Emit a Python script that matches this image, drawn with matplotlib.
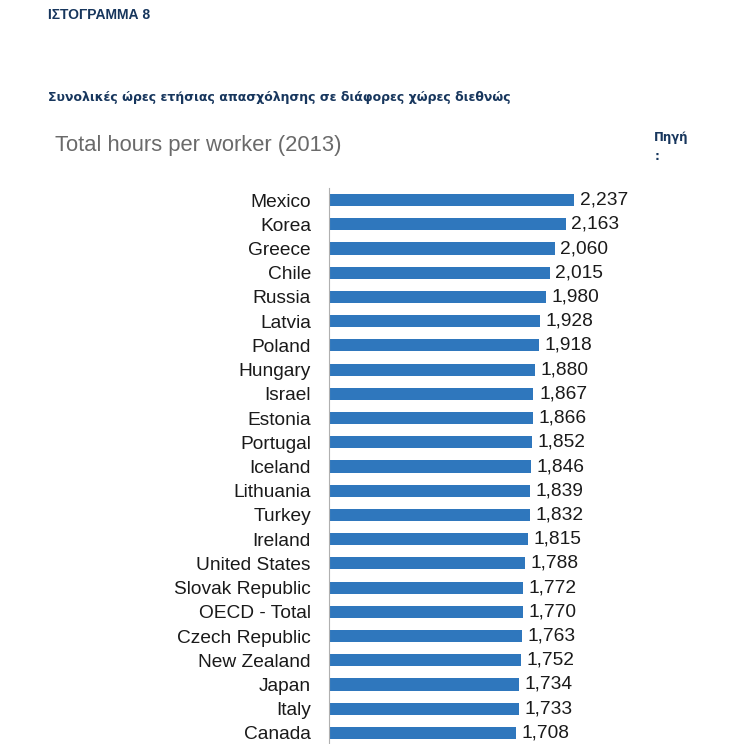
import matplotlib.pyplot as plt

countries = ['Mexico', 'Korea', 'Greece', 'Chile', 'Russia', 'Latvia', 'Poland',
             'Hungary', 'Israel', 'Estonia', 'Portugal', 'Iceland', 'Lithuania',
             'Turkey', 'Ireland', 'United States', 'Slovak Republic', 'OECD - Total',
             'Czech Republic', 'New Zealand', 'Japan', 'Italy', 'Canada']
hours = [2237, 2163, 2060, 2015, 1980, 1928, 1918, 1880, 1867, 1866, 1852, 1846,
         1839, 1832, 1815, 1788, 1772, 1770, 1763, 1752, 1734, 1733, 1708]

W = H = 744
fig = plt.figure(figsize=(W / 100, H / 100), dpi=100)
fig.patch.set_facecolor('white')

# axes placed in pixel coords of the reference
left, right = 329, 574
top, bottom = 188, 745
ax = fig.add_axes([left / W, 1 - bottom / H, (right - left) / W, (bottom - top) / H])

y = range(len(countries))
bars = ax.barh(y, hours, height=0.5, color='#2f77bd')
ax.set_xlim(0, max(hours))
ax.set_ylim(len(countries) - 0.5, -0.5)
ax.set_yticks(list(y))
ax.set_yticklabels(countries, family='Liberation Sans', fontsize=13.8, color='#1a1a1a')
ax.tick_params(axis='y', length=0, pad=13)
ax.set_xticks([])
for s in ['top', 'right', 'bottom']:
    ax.spines[s].set_visible(False)
ax.spines['left'].set_color('#b0b0b0')
ax.spines['left'].set_linewidth(0.8)

for rect, v in zip(bars, hours):
    ax.annotate('{:,}'.format(v), (rect.get_width(), rect.get_y() + rect.get_height() / 2),
                xytext=(4, 0), textcoords='offset points', ha='left', va='center',
                family='Liberation Sans', fontsize=13.8, color='#1a1a1a', clip_on=False)

navy = '#17365d'
fig.text(48 / W, 1 - 15 / H, 'ΙΣΤΟΓΡΑΜΜΑ 8', family='Liberation Sans', fontsize=10,
         fontweight='bold', color=navy, va='center')
fig.text(48 / W, 1 - 97 / H, 'Συνολικές ώρες ετήσιας απασχόλησης σε διάφορες χώρες διεθνώς',
         family='DejaVu Sans', fontsize=9, fontweight='bold', color=navy, va='center')
fig.text(55 / W, 1 - 145 / H, 'Total hours per worker (2013)', family='Liberation Sans',
         fontsize=15.8, color='#6a6a6a', va='center')
fig.text(654 / W, 1 - 138 / H, 'Πηγή', family='DejaVu Sans', fontsize=8.5,
         fontweight='bold', color=navy, va='center')
fig.text(655 / W, 1 - 157 / H, ':', family='DejaVu Sans', fontsize=8.5,
         fontweight='bold', color=navy, va='center')

fig.savefig('out.png', dpi=100)
